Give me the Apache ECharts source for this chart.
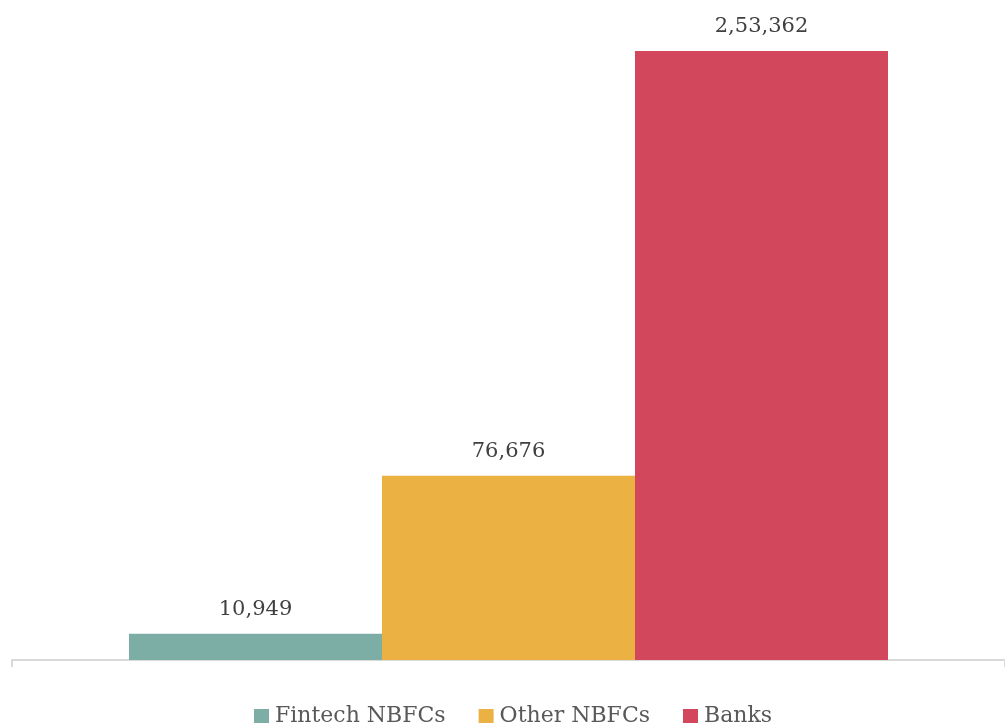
<!DOCTYPE html>
<html>
<head>
<meta charset="utf-8">
<script src="https://cdn.jsdelivr.net/npm/echarts@6/dist/echarts.min.js"></script>
<style>
  html, body { margin: 0; padding: 0; background: #ffffff; }
  #chart { width: 1005px; height: 726px; }
</style>
</head>
<body>
<div id="chart"></div>
<script>
// Lenders and their values
const categories = [''];
const seriesNames = ['Fintech NBFCs', 'Other NBFCs', 'Banks'];
const seriesValues = [10949, 76676, 253362];
const seriesColors = ['#7daea6', '#ebb142', '#d2475b'];

// Indian digit grouping: 2,53,362
function formatIN(n) {
  const s = String(Math.round(n));
  if (s.length <= 3) return s;
  const last3 = s.slice(-3);
  let rest = s.slice(0, -3);
  const parts = [];
  while (rest.length > 2) {
    parts.unshift(rest.slice(-2));
    rest = rest.slice(0, -2);
  }
  if (rest.length) parts.unshift(rest);
  return parts.join(',') + ',' + last3;
}

const fontFamily = '"DejaVu Serif", "Liberation Serif", serif';

const chart = echarts.init(document.getElementById('chart'), null, { renderer: 'canvas' });

chart.setOption({
  animation: false,
  backgroundColor: '#ffffff',
  textStyle: { fontFamily: fontFamily },
  grid: { left: 12, right: -5, top: 35, bottom: 66, containLabel: false },
  legend: {
    top: 700,
    left: 249,
    itemWidth: 15,
    itemHeight: 14,
    itemGap: 33,
    icon: 'rect',
    textStyle: { fontFamily: fontFamily, fontSize: 22, color: '#595959', padding: [0, 0, 0, 1] },
    data: seriesNames
  },
  xAxis: {
    type: 'category',
    data: categories,
    axisLine: { show: true, lineStyle: { color: '#d9d9d9', width: 2 } },
    axisTick: { show: true, length: 7, lineStyle: { color: '#d9d9d9', width: 2 } },
    axisLabel: { show: false }
  },
  yAxis: {
    type: 'value',
    min: 0,
    max: 260000,
    show: false,
    splitLine: { show: false }
  },
  series: seriesNames.map((name, i) => ({
    name: name,
    type: 'bar',
    barWidth: 253,
    barGap: '0%',
    itemStyle: { color: seriesColors[i] },
    label: {
      show: true,
      position: 'top',
      distance: 14,
      fontFamily: fontFamily,
      fontSize: 21,
      color: '#404040',
      formatter: p => formatIN(p.value)
    },
    data: [seriesValues[i]]
  }))
});
</script>
</body>
</html>
